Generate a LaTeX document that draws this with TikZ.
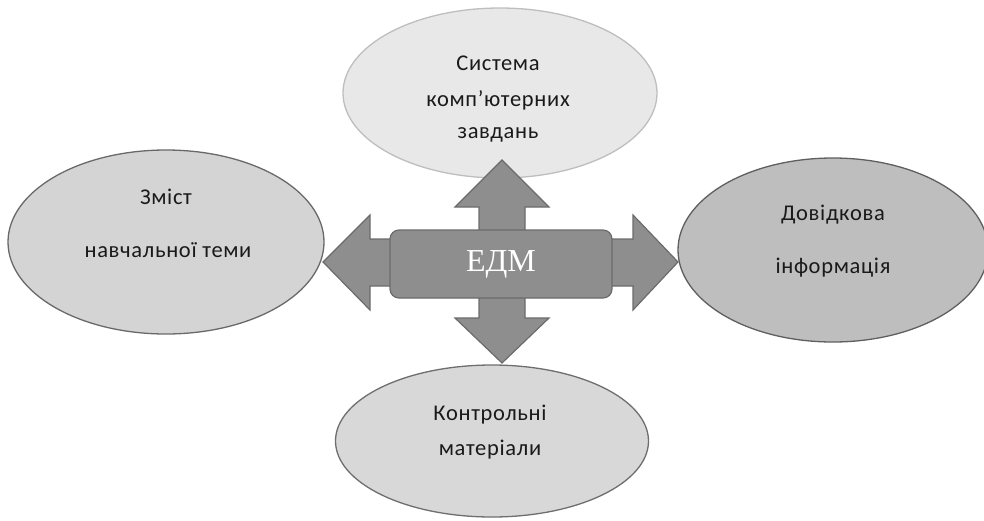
\documentclass[tikz,border=0pt]{standalone}
\usepackage{fontspec}
\setmainfont{Liberation Serif}
\newfontfamily\lbl[LetterSpace=3]{Carlito}
\usetikzlibrary{shapes.geometric}
\definecolor{txt}{HTML}{1A1A1A}
\definecolor{arrfill}{HTML}{8E8E8E}
\definecolor{arrline}{HTML}{6B6B6B}
\tikzset{
  oval/.style={ellipse, inner sep=0pt, line width=1.3pt},
  lbltext/.style={font=\lbl\fontsize{22.5}{22.5}\selectfont, text=txt, inner sep=0pt},
  quad/.style={fill=arrfill, draw=arrline, line width=1.2pt, line join=miter},
}
\begin{document}
\begin{tikzpicture}[x=1pt,y=-1pt]
\useasboundingbox (0,0) rectangle (984,520);
% ellipses
\node[oval, fill={rgb,255:red,232;green,232;blue,232}, draw={rgb,255:red,190;green,190;blue,190}, minimum width=314, minimum height=170] (top) at (500,93) {};
\node[oval, fill={rgb,255:red,212;green,212;blue,212}, draw={rgb,255:red,105;green,105;blue,105}, minimum width=316, minimum height=184] (left) at (166,242) {};
\node[oval, fill={rgb,255:red,190;green,190;blue,190}, draw={rgb,255:red,95;green,95;blue,95}, minimum width=310, minimum height=184] (right) at (833,250) {};
\node[oval, fill={rgb,255:red,216;green,216;blue,216}, draw={rgb,255:red,110;green,110;blue,110}, minimum width=313, minimum height=152] (bottom) at (492,441) {};
% arrows
\draw[quad] (392,239) -- (370,239) -- (370,215) -- (323,262) -- (370,310) -- (370,286) -- (392,286) -- cycle;
\draw[quad] (610,239) -- (633,239) -- (633,215) -- (678,262) -- (633,310) -- (633,286) -- (610,286) -- cycle;
\draw[quad] (479,232) -- (479,207) -- (455,207) -- (502,160) -- (549,207) -- (525,207) -- (525,232) -- cycle;
\draw[quad] (479,296) -- (479,318) -- (455,318) -- (502,363) -- (549,318) -- (525,318) -- (525,296) -- cycle;
% centre
\node[fill=arrfill, draw=arrline, line width=1.2pt, rounded corners=9pt, minimum width=222, minimum height=68, inner sep=0pt, text=white, font=\fontsize{32}{32}\selectfont] (edm) at (501,264) {ЕДМ};
% labels
\node[lbltext] (t1) at (498,63) {Система};
\node[lbltext] (t2) at (498,100) {комп’ютерних};
\node[lbltext] (t3) at (498,135) {завдань};
\node[lbltext] (l1) at (166,197) {Зміст};
\node[lbltext] (l2) at (168,250) {навчальної теми};
\node[lbltext] (r1) at (833,215) {Довідкова};
\node[lbltext] (r2) at (833,268) {інформація};
\node[lbltext] (b1) at (490,415) {Контрольні};
\node[lbltext] (b2) at (490,450) {матеріали};
\end{tikzpicture}
\end{document}
